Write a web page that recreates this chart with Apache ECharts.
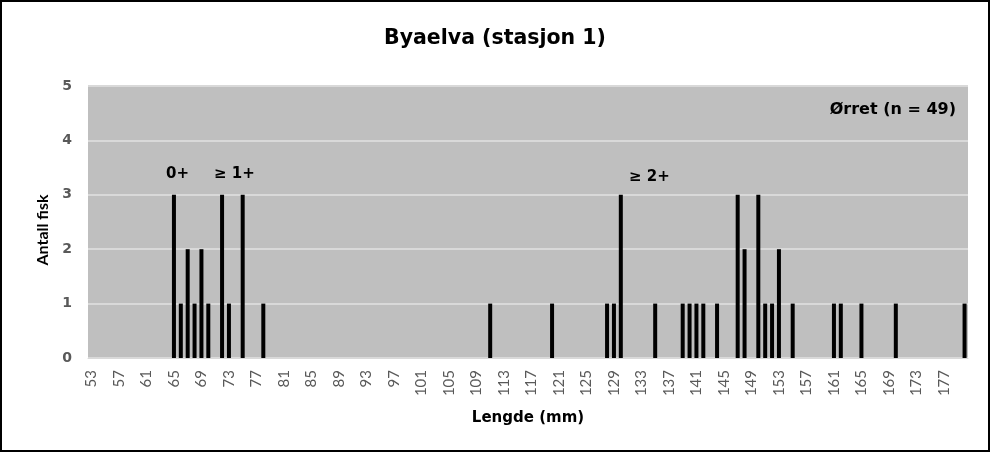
<!DOCTYPE html>
<html><head><meta charset="utf-8">
<script src="https://cdn.jsdelivr.net/npm/echarts@6/dist/echarts.min.js"></script>
<style>
html,body{margin:0;padding:0;background:#fff;}
#c{width:990px;height:452px;box-sizing:border-box;border:2px solid #000;}
</style></head>
<body><div id="c"></div>
<script>
const lengths = [];
for (let v = 53; v <= 180; v++) lengths.push(String(v));
const fishLengths = [65,66,67,68,69,70,72,73,75,78,111,120,128,129,130,135,139,140,141,142,144,147,148,150,151,152,153,155,161,162,165,170,180];
const fishCounts  = [3, 1, 2, 1, 2, 1, 3, 1, 3, 1, 1,  1,  1,  1,  3,  1,  1,  1,  1,  1,  1,  3,  2,  3,  1,  1,  2,  1,  1,  1,  1,  1,  1];
const yTicks = [0,1,2,3,4,5];
const titleText = 'Byaelva (stasjon 1)';
const annotations = ['0+', '≥ 1+', '≥ 2+', 'Ørret (n = 49)'];

const counts = lengths.map(l => {
  const i = fishLengths.indexOf(Number(l));
  return i >= 0 ? fishCounts[i] : 0;
});

const WIDE = 'DejaVu Sans';
const NARROW = 'Lato';
const chart = echarts.init(document.getElementById('c'));
chart.setOption({
  animation: false,
  backgroundColor: '#fff',
  title: {text: titleText, left: 'center', top: 21,
    textStyle: {fontFamily: WIDE, fontSize: 20.5, fontWeight: 'bold', color: '#000'}},
  grid: {left: 86, right: 20, top: 84, bottom: 92, show: true, backgroundColor: '#bfbfbf', borderWidth: 0},
  xAxis: {
    type: 'category', data: lengths, boundaryGap: true,
    name: 'Lengde (mm)', nameLocation: 'middle', nameGap: 53,
    nameTextStyle: {fontFamily: WIDE, fontSize: 15, fontWeight: 'bold', color: '#000'},
    axisLine: {show: true, lineStyle: {color: '#d9d9d9', width: 1}},
    axisTick: {show: false},
    axisLabel: {interval: 3, rotate: 90, color: '#595959', fontSize: 15, margin: 12, fontFamily: NARROW}
  },
  yAxis: {
    type: 'value', min: yTicks[0], max: yTicks[yTicks.length-1], interval: 1,
    name: 'Antall fisk', nameLocation: 'middle', nameGap: 37,
    nameTextStyle: {fontFamily: NARROW, fontSize: 16, fontWeight: 'bold', color: '#000', padding: [0, 16, 0, 0]},
    axisLine: {show: false}, axisTick: {show: false},
    axisLabel: {color: '#595959', fontSize: 14, fontWeight: 'bold', margin: 16, fontFamily: WIDE},
    splitLine: {show: true, lineStyle: {color: '#d9d9d9', width: 2}}
  },
  series: [{
    type: 'bar', data: counts, barWidth: 4,
    itemStyle: {color: '#000'}
  }],
  graphic: [
    {type: 'text', left: 164, top: 165, style: {text: annotations[0], font: 'bold 15px ' + WIDE, fill: '#000'}},
    {type: 'text', left: 212, top: 165, style: {text: annotations[1], font: 'bold 15px ' + WIDE, fill: '#000'}},
    {type: 'text', left: 627, top: 168, style: {text: annotations[2], font: 'bold 15px ' + WIDE, fill: '#000'}},
    {type: 'text', right: 32, top: 100, style: {text: annotations[3], font: 'bold 16px ' + WIDE, fill: '#000'}}
  ]
});
</script></body></html>
